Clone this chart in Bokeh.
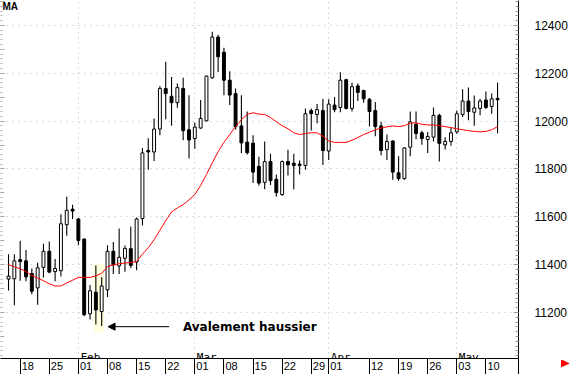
from bokeh.plotting import figure
from bokeh.models import (Range1d, LinearAxis, FixedTicker, SingleIntervalTicker, Label,
                          BoxAnnotation, ColumnDataSource, Arrow, NormalHead, TeX)
from bokeh.embed import file_html
from bokeh.resources import INLINE

# ---- data (trading-day index, OHLC) ----
day = list(range(85))
opens = [11340, 11341, 11421, 11416, 11363, 11303, 11389, 11456, 11371, 11375,
         11567, 11632, 11591, 11507, 11195, 11285, 11204, 11295, 11456, 11395,
         11427, 11467, 11411, 11593, 11877, 11871, 11967, 12136, 12104, 12077,
         12136, 11964, 11927, 11971, 12001, 12181, 12351, 12288, 12171, 12115,
         11980, 11912, 11908, 11811, 11744, 11831, 11757, 11693, 11831, 11824,
         11820, 11815, 12044, 12028, 12044, 11875, 12067, 12057, 12173, 12053,
         12147, 12128, 12091, 12044, 11980, 11881, 11917, 11784, 11760, 11891,
         11987, 11951, 11923, 11933, 12024, 11901, 11915, 11955, 12028, 12084,
         12037, 12053, 12088, 12061, 12095]
highs = [11444, 11444, 11500, 11461, 11384, 11408, 11488, 11497, 11424, 11611,
         11684, 11651, 11595, 11511, 11315, 11397, 11348, 11481, 11495, 11551,
         11480, 11560, 11597, 11888, 11928, 12011, 12147, 12248, 12184, 12157,
         12181, 12108, 11993, 12088, 12191, 12373, 12361, 12307, 12208, 12136,
         12108, 12040, 11941, 11851, 11915, 11864, 11777, 11835, 11880, 11864,
         11835, 12053, 12053, 12071, 12093, 12091, 12101, 12204, 12177, 12160,
         12157, 12131, 12097, 12080, 11997, 11944, 11920, 11853, 11891, 12040,
         12040, 11960, 11955, 12057, 12031, 11933, 11971, 12044, 12133, 12140,
         12107, 12093, 12124, 12115, 12161]
lows = [11292, 11231, 11333, 11331, 11277, 11233, 11347, 11364, 11331, 11351,
        11521, 11591, 11481, 11185, 11171, 11150, 11144, 11265, 11361, 11361,
        11370, 11385, 11377, 11564, 11797, 11833, 11941, 12008, 11981, 12056,
        11920, 11844, 11884, 11968, 11999, 12177, 12205, 12108, 12067, 11965,
        11867, 11860, 11741, 11731, 11715, 11733, 11684, 11688, 11773, 11715,
        11777, 11797, 11961, 11991, 11817, 11837, 12037, 12037, 12048, 12040,
        12084, 12077, 11977, 11937, 11857, 11837, 11755, 11751, 11755, 11853,
        11924, 11901, 11867, 11915, 11831, 11881, 11897, 11947, 12017, 12004,
        11981, 12024, 12051, 12031, 11949]
closes = [11352, 11416, 11413, 11349, 11289, 11387, 11456, 11369, 11384, 11571,
          11627, 11624, 11501, 11191, 11291, 11211, 11311, 11456, 11400, 11431,
          11468, 11397, 11591, 11867, 11871, 11967, 12136, 12115, 12077, 12140,
          11960, 11921, 11975, 12011, 12188, 12351, 12269, 12171, 12109, 11977,
          11909, 11868, 11787, 11741, 11831, 11751, 11701, 11831, 11817, 11815,
          11815, 12031, 12031, 12048, 11877, 12071, 12048, 12171, 12053, 12144,
          12120, 12093, 12040, 11977, 11877, 11915, 11787, 11760, 11888, 11997,
          11948, 11927, 11936, 12024, 11907, 11915, 11951, 12031, 12084, 12040,
          12055, 12084, 12057, 12093, 12089]
ma = [11400, 11391, 11384, 11371, 11355, 11344, 11333, 11320, 11311, 11311,
      11324, 11335, 11347, 11347, 11347, 11353, 11364, 11392, 11399, 11404,
      11407, 11409, 11413, 11444, 11471, 11504, 11544, 11584, 11620, 11637,
      11651, 11671, 11693, 11731, 11777, 11826, 11872, 11911, 11944, 11977,
      12006, 12028, 12035, 12029, 12028, 12015, 11997, 11981, 11968, 11951,
      11944, 11948, 11951, 11951, 11937, 11917, 11911, 11911, 11911, 11920,
      11931, 11944, 11953, 11964, 11971, 11976, 11980, 11977, 11981, 11991,
      11993, 11987, 11984, 11984, 11981, 11977, 11973, 11968, 11964, 11960,
      11957, 11955, 11957, 11964, 11977]

week_ticks = [2, 7, 12, 17, 22, 27, 32, 37, 42, 47, 52, 55, 62, 67, 72, 77, 82]
week_labels = ["18", "25", "01", "08", "15", "22", "01", "08", "15", "22", "29",
               "01", "12", "19", "26", "03", "10"]
month_ticks = [12, 32, 55, 77]
month_labels = ["Feb", "Mar", "Apr", "May"]

note_text = "Avalement haussier"
note_pos = (29.95, 11141)
arrow_from = (27.6, 11141)
arrow_to = (17.1, 11141)
pattern_box = (14.57, 16.4, 11117, 11404)
pad = "\u00a0" * 5  # pushes each centred date label to the right of its tick line
nav_tick = 87.55     # right edge: carries the red navigation arrow in the corner

# ---- figure ----
p = figure(width=570, height=374, x_range=Range1d(-1.38, 87.6), y_range=Range1d(11008, 12504),
           output_backend="svg", toolbar_location=None, y_axis_location="right",
           min_border=0, min_border_left=0, min_border_top=0, min_border_right=52,
           min_border_bottom=16)
p.outline_line_color = None
p.background_fill_color = "white"
p.border_fill_color = "white"

# x axis: tick lines down to the bottom edge, labels inside the band
xa = p.xaxis[0]
xa.ticker = FixedTicker(ticks=week_ticks + [nav_tick])
overrides = {t: pad + l for t, l in zip(week_ticks, week_labels)}
overrides[nav_tick] = TeX(r"\hspace{7.2em}\color{red}{\blacktriangleright}")
xa.major_label_overrides = overrides
xa.major_tick_out = 16
xa.major_tick_in = 0
xa.minor_tick_out = 0
xa.minor_tick_in = 0
xa.major_tick_line_color = "black"
xa.axis_line_color = "black"
xa.major_label_standoff = -15
xa.major_label_text_font = "Liberation Sans"
xa.major_label_text_font_size = "11px"
xa.major_label_text_color = "black"

# right y axis
ya = p.yaxis[0]
ya.ticker = SingleIntervalTicker(interval=200, num_minor_ticks=10)
ya.major_tick_in = 5
ya.major_tick_out = 0
ya.minor_tick_in = 3
ya.minor_tick_out = 0
ya.major_tick_line_color = "#999999"
ya.minor_tick_line_color = "#999999"
ya.axis_line_color = "black"
ya.major_label_standoff = 16
ya.major_label_text_font = "Liberation Sans"
ya.major_label_text_font_size = "12px"
ya.major_label_text_color = "black"

# left ticks only
la = LinearAxis(ticker=SingleIntervalTicker(interval=100, num_minor_ticks=5))
la.axis_line_color = None
la.major_tick_in = 4
la.major_tick_out = 0
la.minor_tick_in = 2
la.minor_tick_out = 0
la.major_tick_line_color = "#aaaaaa"
la.minor_tick_line_color = "#aaaaaa"
la.major_label_text_font_size = "1px"
la.major_label_text_color = None
la.major_label_standoff = -1
p.add_layout(la, "left")

# grids
p.ygrid.grid_line_color = "#b8b8b8"
p.ygrid.grid_line_dash = "1 5"
p.xgrid.ticker = FixedTicker(ticks=month_ticks)
p.xgrid.grid_line_color = "#b8b8b8"
p.xgrid.grid_line_dash = "1 4"

# highlight box for the pattern
p.add_layout(BoxAnnotation(left=pattern_box[0], right=pattern_box[1], bottom=pattern_box[2],
                           top=pattern_box[3], fill_color="#ffffe0", fill_alpha=1.0,
                           line_color=None, level="underlay"))

# candles
body_top = [max(o, c) for o, c in zip(opens, closes)]
body_bot = [min(o, c) for o, c in zip(opens, closes)]
fills = ["white" if c >= o else "black" for o, c in zip(opens, closes)]
src = ColumnDataSource(dict(x=day, hi=highs, lo=lows, top=body_top, bot=body_bot, fill=fills))
p.segment(x0="x", y0="lo", x1="x", y1="hi", source=src, line_color="black", line_width=1.1)
p.vbar(x="x", width=0.5, top="top", bottom="bot", source=src, fill_color="fill",
       line_color="black", line_width=1)

# moving average
p.line(day, ma, line_color="#ff0000", line_width=1)

# annotation
p.add_layout(Arrow(end=NormalHead(size=7, fill_color="black", line_color="black"),
                   x_start=arrow_from[0], y_start=arrow_from[1], x_end=arrow_to[0], y_end=arrow_to[1],
                   line_color="black", line_width=1))
p.add_layout(Label(x=note_pos[0], y=note_pos[1], text=note_text, text_baseline="middle",
                   text_font="DejaVu Sans", text_font_style="bold", text_font_size="12px",
                   text_color="black"))

# month labels
for t, m in zip(month_ticks, month_labels):
    p.add_layout(Label(x=t + 0.35, y=11013, text=m, text_baseline="alphabetic",
                       text_font="DejaVu Sans Mono", text_font_size="11px", text_color="black"))

# title tag
p.add_layout(Label(x=-1.05, y=12500, text="MA", text_baseline="top",
                   text_font="Liberation Sans", text_font_style="bold", text_font_size="10px",
                   text_color="black"))

open("out.html", "w").write(file_html(p, INLINE))
